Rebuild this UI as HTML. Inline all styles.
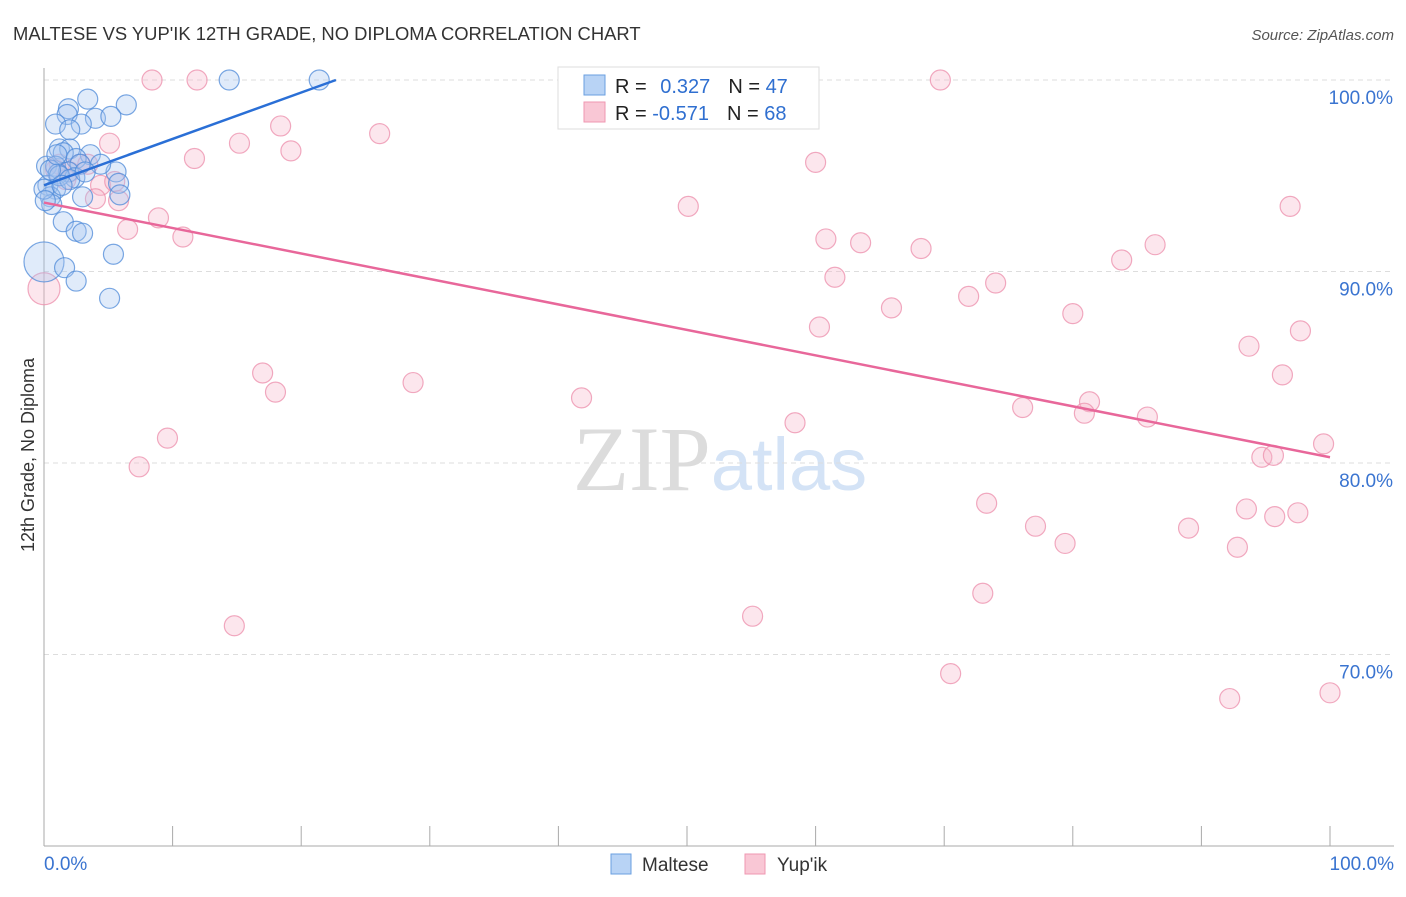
<!DOCTYPE html>
<html><head><meta charset="utf-8"><style>
body{margin:0;background:#fff;font-family:"Liberation Sans",sans-serif;}
svg text{font-family:"Liberation Sans",sans-serif;}
</style></head><body>
<svg id="chart" width="1406" height="892" xmlns="http://www.w3.org/2000/svg">
<text x="13" y="40" font-size="18.4" fill="#333">MALTESE VS YUP'IK 12TH GRADE, NO DIPLOMA CORRELATION CHART</text>
<text x="1394" y="40" font-size="15" fill="#555" font-style="italic" text-anchor="end">Source: ZipAtlas.com</text>
<text x="720" y="490" font-size="92" text-anchor="middle"><tspan fill="#dcdcdc" font-family="Liberation Serif">ZIP</tspan><tspan fill="#d4e3f6" font-size="74">atlas</tspan></text>
<g id="grid"></g>
<g id="axes"></g>
<g id="points"></g>
<g id="trends"></g>
<text transform="translate(34,455) rotate(-90)" font-size="18" fill="#333" text-anchor="middle">12th Grade, No Diploma</text>
<g>
<rect x="558" y="67" width="261" height="62" fill="#fff" stroke="#ddd"/>
<rect x="584" y="75" width="21" height="20" fill="#b8d3f5" stroke="#6a9fe0"/>
<rect x="584" y="102" width="21" height="20" fill="#f9c7d5" stroke="#ef97b1"/>
<text x="615" y="93" font-size="20" fill="#222">R = <tspan fill="#2f6fd0" dx="8">0.327</tspan><tspan fill="#222" dx="18">N = </tspan><tspan fill="#2f6fd0">47</tspan></text>
<text x="615" y="120" font-size="20" fill="#222">R = <tspan fill="#2f6fd0">-0.571</tspan><tspan fill="#222" dx="18">N = </tspan><tspan fill="#2f6fd0">68</tspan></text>
</g>
<g>
<rect x="611" y="854" width="20" height="20" fill="#b8d3f5" stroke="#6a9fe0"/>
<text x="642" y="871" font-size="19" fill="#333">Maltese</text>
<rect x="745" y="854" width="20" height="20" fill="#f9c7d5" stroke="#ef97b1"/>
<text x="777" y="871" font-size="19" fill="#333">Yup'ik</text>
</g>
</svg>
<script>
const yTicks=[100,90,80,70];
const xTickLabels=["0.0%","100.0%"];
const blueX=[14.4,21.4,1.9,3.4,6.4,1.8,4.0,5.2,0.9,2.9,2.0,1.2,2.0,1.5,3.6,2.5,0.2,0.9,2.8,5.6,1.9,1.1,2.4,5.8,0.3,0.9,5.9,3.0,0.5,0.6,1.5,2.5,3.0,5.4,0,1.6,2.5,5.1,0,1.2,0.5,4.4,2.0,0.1,3.2,1.4,1.0];
const blueY=[100,100,98.5,99.0,98.7,98.2,98.0,98.1,97.7,97.7,97.4,96.4,96.4,96.2,96.1,95.9,95.5,95.5,95.6,95.2,95.2,95.1,94.9,94.6,94.5,94.3,94.0,93.9,93.9,93.5,92.6,92.1,92.0,90.9,90.5,90.2,89.5,88.6,94.3,95.0,95.3,95.6,94.8,93.7,95.2,94.5,96.1];
const pinkX=[8.4,11.9,69.7,5.1,18.4,26.1,15.2,19.2,11.7,60.0,2.8,1.2,3.4,4.4,5.5,4.0,5.8,8.9,6.5,10.8,50.1,60.8,63.5,68.2,96.9,86.4,83.8,61.5,71.9,74.0,65.9,80.0,60.3,97.7,93.7,96.3,17.0,18.0,28.7,41.8,81.3,76.1,80.9,85.8,58.4,99.5,94.7,95.6,9.6,7.4,73.3,93.5,95.7,97.5,77.1,89.0,79.4,92.8,73.0,55.1,14.8,70.5,92.2,100,0,2.0,0.9,1.7];
const pinkY=[100,100,100,96.7,97.6,97.2,96.7,96.3,95.9,95.7,95.6,95.6,95.6,94.5,94.7,93.8,93.7,92.8,92.2,91.8,93.4,91.7,91.5,91.2,93.4,91.4,90.6,89.7,88.7,89.4,88.1,87.8,87.1,86.9,86.1,84.6,84.7,83.7,84.2,83.4,83.2,82.9,82.6,82.4,82.1,81.0,80.3,80.4,81.3,79.8,77.9,77.6,77.2,77.4,76.7,76.6,75.8,75.6,73.2,72.0,71.5,69.0,67.7,68.0,89.1,95.2,95.3,94.8];
const blueTrend=[[0,94.5],[22.7,100]];
const pinkTrend=[[0,93.6],[100,80.3]];
const NS="http://www.w3.org/2000/svg";
const X=v=>44+v*12.86;
const Y=v=>80+(100-v)*19.15;
function mk(t,a,p){const e=document.createElementNS(NS,t);for(const k in a)e.setAttribute(k,a[k]);document.getElementById(p).appendChild(e);return e;}
yTicks.forEach(t=>{
 const l=mk('line',{x1:44,x2:1394,y1:Y(t),y2:Y(t),stroke:'#ddd','stroke-dasharray':'5,4'},'grid');
 
 
 const tx=mk('text',{x:1393,y:Y(t)+24,'font-size':19,fill:'#3a74d0','text-anchor':'end'},'grid');
 tx.textContent=t.toFixed(1)+'%';
 
 
});
const ax=mk('line',{x1:44,x2:44,y1:68,y2:846,stroke:'#aaa'},'axes');


const bx=mk('line',{x1:44,x2:1394,y1:846,y2:846,stroke:'#aaa'},'axes');


for(let i=1;i<=10;i++){const t=mk('line',{x1:X(i*10),x2:X(i*10),y1:826,y2:846,stroke:'#aaa'},'axes');
 
 }
[[0,'start',44],[100,'end',1394]].forEach((d,i)=>{const t=mk('text',{x:d[2],y:870,'font-size':19,fill:'#3a74d0','text-anchor':d[1]},'axes');t.textContent=xTickLabels[i];
 
 });
function pts(xs,ys,fill,stroke,name,big){xs.forEach((x,i)=>{
 const r=(big.includes(i))?(name==='maltese-point'?20:16):10;
 const c=mk('circle',{cx:X(x),cy:Y(ys[i]),r:r,fill:fill,'fill-opacity':0.35,stroke:stroke,'stroke-opacity':0.75,'stroke-width':1.2},'points');
 
 });}
pts(pinkX,pinkY,'#f7b8cb','#ec8eab','yupik-point',[64]);
pts(blueX,blueY,'#a6c7f2','#4d8ad8','maltese-point',[34]);
function trend(tr,col,name){const l=mk('line',{x1:X(tr[0][0]),y1:Y(tr[0][1]),x2:X(tr[1][0]),y2:Y(tr[1][1]),stroke:col,'stroke-width':2.5},'trends');
 
 }
trend(blueTrend,'#2a6fd6','maltese-trend-line');
trend(pinkTrend,'#e8679a','yupik-trend-line');
</script>
</body></html>
